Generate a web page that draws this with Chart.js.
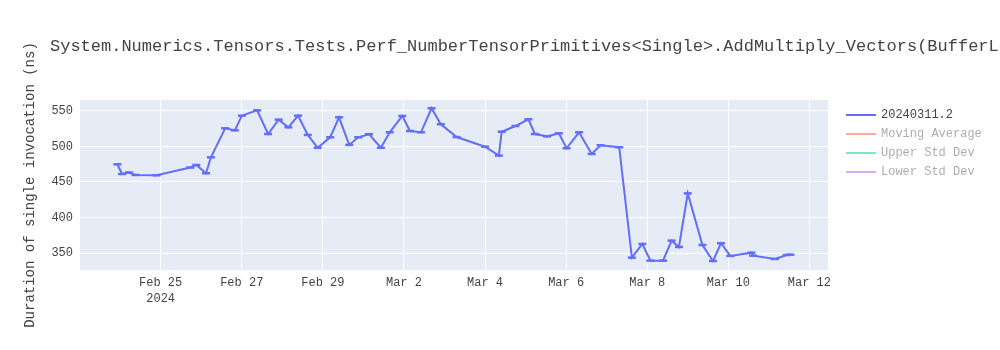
<!DOCTYPE html>
<html>
<head>
<meta charset="utf-8">
<script src="https://cdn.jsdelivr.net/npm/chart.js@4/dist/chart.umd.min.js"></script>
<style>
  body { margin: 0; background: #fff; }
  #wrap { width: 1000px; height: 350px; position: relative; }
</style>
</head>
<body>
<div id="wrap"><canvas id="canvas"></canvas></div>
<script>
// du lieu
const chartTitle = "System.Numerics.Tensors.Tests.Perf_NumberTensorPrimitives<Single>.AddMultiply_Vectors(BufferLength: 128)";
const yTitle = "Duration of single invocation (ns)";
const seriesNames = ["20240311.2", "Moving Average", "Upper Std Dev", "Lower Std Dev"];
const seriesColors = ["#636efa", "#f7aa9d", "#80e5ca", "#d5b1fc"];

const runDates = [
  "2024-02-23T22:20", "2024-02-24T01:10", "2024-02-24T05:15", "2024-02-24T09:10", "2024-02-24T21:35",
  "2024-02-25T17:30", "2024-02-25T21:05", "2024-02-26T02:50", "2024-02-26T05:45", "2024-02-26T14:10",
  "2024-02-26T19:55", "2024-02-27T00:05", "2024-02-27T09:05", "2024-02-27T15:35", "2024-02-27T21:50",
  "2024-02-28T03:35", "2024-02-28T09:20", "2024-02-28T15:05", "2024-02-28T20:55", "2024-02-29T04:20",
  "2024-02-29T09:35", "2024-02-29T15:35", "2024-02-29T20:55", "2024-03-01T03:20", "2024-03-01T10:20",
  "2024-03-01T15:35", "2024-03-01T23:00", "2024-03-02T03:35", "2024-03-02T10:05", "2024-03-02T16:20",
  "2024-03-02T21:50", "2024-03-03T07:10", "2024-03-04T00:00", "2024-03-04T08:10", "2024-03-04T09:50",
  "2024-03-04T18:00", "2024-03-05T01:40", "2024-03-05T05:30", "2024-03-05T12:45", "2024-03-05T19:40",
  "2024-03-06T00:15", "2024-03-06T07:40", "2024-03-06T15:05", "2024-03-06T20:25", "2024-03-07T07:25",
  "2024-03-07T14:55", "2024-03-07T21:05", "2024-03-08T01:55", "2024-03-08T09:20", "2024-03-08T14:25",
  "2024-03-08T18:45", "2024-03-09T00:00", "2024-03-09T08:40", "2024-03-09T14:55", "2024-03-09T19:40",
  "2024-03-10T01:10", "2024-03-10T13:40", "2024-03-10T14:40", "2024-03-11T03:35", "2024-03-11T10:35",
  "2024-03-11T12:45",
];

const durations = [
  474.8, 461.2, 463.3, 459.8, 459.4,
  470.3, 473.8, 462.2, 484.6, 525.3,
  522.5, 543.0, 550.5, 517.3, 537.4,
  526.7, 543.0, 516.0, 498.0, 512.7,
  540.7, 502.0, 512.7, 517.0, 498.0,
  519.7, 542.6, 521.5, 519.7, 553.4,
  531.0, 513.0, 499.5, 487.0, 520.5,
  528.5, 538.0, 517.3, 514.0, 518.3,
  497.3, 519.7, 489.3, 501.5, 498.7,
  343.8, 363.0, 339.6, 339.6, 367.7,
  358.8, 434.0, 361.6, 339.2, 364.0,
  346.2, 350.8, 346.6, 342.0, 347.6,
  348.0,
];

const xTickDates = [
  "2024-02-25T00:00", "2024-02-27T00:00", "2024-02-29T00:00", "2024-03-02T00:00", "2024-03-04T00:00",
  "2024-03-06T00:00", "2024-03-08T00:00", "2024-03-10T00:00", "2024-03-12T00:00",
];
const yTicks = [350, 400, 450, 500, 550];
const xRange = ["2024-02-23T00:15", "2024-03-12T11:00"];
const yRange = [326.5, 565];
const monthNames = ["Jan", "Feb", "Mar", "Apr", "May", "Jun", "Jul", "Aug", "Sep", "Oct", "Nov", "Dec"];

const FONT = '"Courier New", Courier, "Liberation Mono", monospace';
const toMs = (s) => Date.parse(s + ":00Z");

function tickLabel(value, index) {
  const d = new Date(value);
  const text = monthNames[d.getUTCMonth()] + " " + d.getUTCDate();
  return index === 0 ? [text, String(d.getUTCFullYear())] : text;
}

// nen xanh + tieu de + chu thich
const plotlyLook = {
  id: "plotlyLook",
  beforeDraw(chart) {
    const { ctx, chartArea: a } = chart;
    ctx.save();
    ctx.fillStyle = "#e5ecf6";
    ctx.fillRect(a.left, a.top, a.right - a.left, a.bottom - a.top);
    ctx.restore();
  },
  afterDraw(chart) {
    const ctx = chart.ctx;
    ctx.save();
    ctx.font = "17px " + FONT;
    ctx.fillStyle = "#444";
    ctx.textBaseline = "middle";
    ctx.fillText(chartTitle, 50, 46);

    ctx.font = "12px " + FONT;
    chart.data.datasets.forEach((ds, i) => {
      const y = 115 + i * 19;
      ctx.strokeStyle = ds.borderColor;
      ctx.lineWidth = 2;
      ctx.beginPath();
      ctx.moveTo(846, y);
      ctx.lineTo(876, y);
      ctx.stroke();
      ctx.fillStyle = i === 0 ? "#444" : "rgba(68,68,68,0.45)";
      ctx.fillText(ds.label, 881, y);
    });
    ctx.restore();
  },
};

const ctx = document.getElementById("canvas").getContext("2d");

const myChart = new Chart(ctx, {
  type: "line",
  data: {
    datasets: seriesNames.map((name, i) => ({
      label: name,
      data: i === 0 ? runDates.map((d, k) => ({ x: toMs(d), y: durations[k] })) : [],
      borderColor: seriesColors[i],
      backgroundColor: seriesColors[i],
      borderWidth: 2,
      pointStyle: "line",
      pointRadius: 4,
      pointBorderWidth: 2.5,
      pointBorderColor: seriesColors[i],
      tension: 0,
      fill: false,
    })),
  },
  options: {
    responsive: true,
    maintainAspectRatio: false,
    animation: false,
    layout: {
      padding: { top: 100, right: 172, left: 0, bottom: 0 },
    },
    plugins: {
      legend: { display: false },
      title: { display: false },
      tooltip: { enabled: false },
    },
    scales: {
      x: {
        type: "linear",
        min: toMs(xRange[0]),
        max: toMs(xRange[1]),
        afterBuildTicks: (scale) => {
          scale.ticks = xTickDates.map((d) => ({ value: toMs(d) }));
        },
        afterFit: (scale) => {
          scale.height = 80;
        },
        ticks: {
          autoSkip: false,
          maxRotation: 0,
          padding: 5,
          color: "#444",
          font: { size: 12, family: FONT, lineHeight: 1.3 },
          callback: (v, i) => tickLabel(v, i),
        },
        grid: { color: "#ffffff", lineWidth: 1, drawTicks: false },
        border: { display: false },
      },
      y: {
        min: yRange[0],
        max: yRange[1],
        afterBuildTicks: (scale) => {
          scale.ticks = yTicks.map((v) => ({ value: v }));
        },
        afterFit: (scale) => {
          scale.width = 80;
        },
        ticks: {
          padding: 7,
          color: "#444",
          font: { size: 12, family: FONT },
        },
        grid: { color: "#ffffff", lineWidth: 1, drawTicks: false },
        border: { display: false },
        title: {
          display: true,
          text: yTitle,
          color: "#444",
          font: { size: 14, family: FONT },
          padding: { top: 22, bottom: 0 },
        },
      },
    },
  },
  plugins: [plotlyLook],
});
</script>
</body>
</html>
